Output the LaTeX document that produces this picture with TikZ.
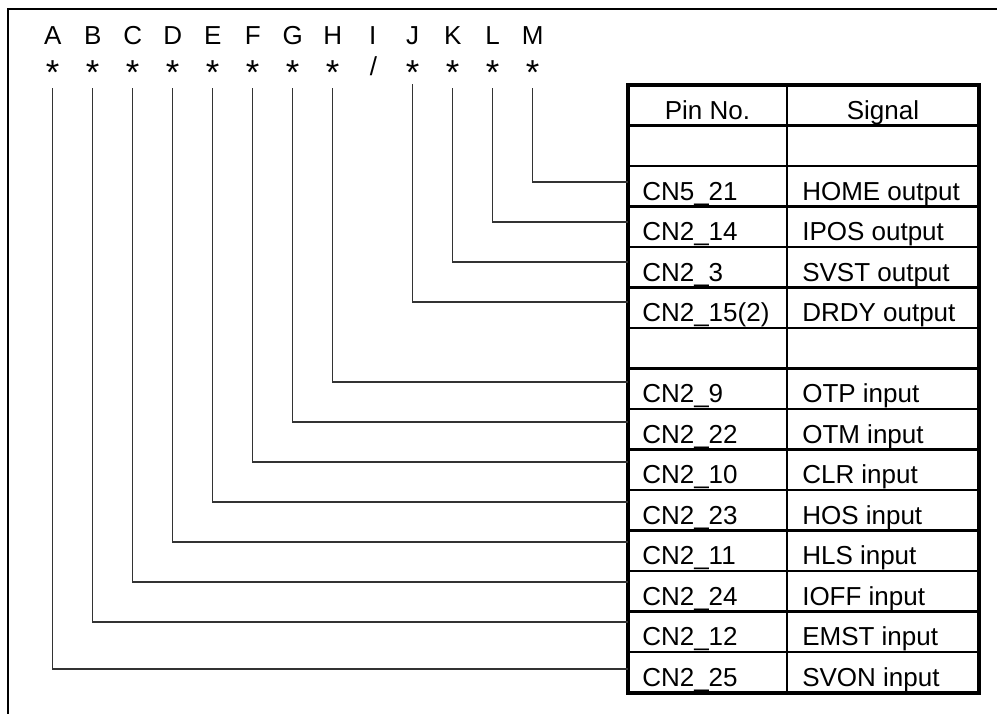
\documentclass[tikz,border=0pt]{standalone}
\usepackage{fontspec}
\setmainfont{Liberation Sans}
\usetikzlibrary{positioning}
\begin{document}
\begin{tikzpicture}[x=0.75pt,y=-0.75pt,
  every node/.style={font=\fontsize{19.5}{22}\selectfont,inner sep=0pt},
  hd/.style={anchor=base},
  mk/.style={anchor=base,font=\fontsize{26}{28}\selectfont},
  cell/.style={anchor=base west},
  wire/.style={black!80,line width=0.9pt},
  rule/.style={line width=2.2pt},
  frame/.style={line width=1.6pt}]
\useasboundingbox (0,0) rectangle (997,714);
% frame of the sheet, only its top and left edges are in view
\draw[frame] (997,9) -- (8,9) -- (8,714);
% bit letters
\foreach \l [count=\i from 0] in {A,...,M}
  \node[hd] (l\l) at (52.7+40*\i,44) {\l};
\node[hd] (sI) at (373.5,75.5) {/};
% table grid
\foreach \k in {1,...,14}
  \draw[rule] (628,85+40.5*\k) -- (979,85+40.5*\k);
\draw[line width=1.6pt] (787,85) -- (787,692.5);
\draw[line width=3pt] (628,85) rectangle (979,692.5);
\node[hd] (hPin) at (707.5,119) {Pin No.};
\node[hd] (hSig) at (883,119) {Signal};
\foreach \k/\p/\s in {2/CN5\_21/HOME output,3/CN2\_14/IPOS output,
    4/CN2\_3/SVST output,5/CN2\_15(2)/DRDY output,7/CN2\_9/OTP input,
    8/CN2\_22/OTM input,9/CN2\_10/CLR input,10/CN2\_23/HOS input,
    11/CN2\_11/HLS input,12/CN2\_24/IOFF input,13/CN2\_12/EMST input,
    14/CN2\_25/SVON input} {
  \node[cell] (p\k) at (642,85+40.5*\k+34) {\p};
  \node[cell] (s\k) at (802,85+40.5*\k+34) {\s};
}
% asterisks and the wires from each bit to its pin row
\foreach \l/\i/\t/\y in {A/0/88/669,B/1/88/622,C/2/88/582,D/3/88/542,
    E/4/88/502,F/5/88/462,G/6/88/422,H/7/88/382,J/9/84/302,K/10/88/262,
    L/11/88/222,M/12/88/182} {
  \node[mk] (s\l) at (52.7+40*\i,84) {*};
  \coordinate (t\l) at (52.7+40*\i,\t);
  \coordinate (e\l) at (628,\y);
  \draw[wire] (t\l) |- (e\l);
}
\end{tikzpicture}
\end{document}
